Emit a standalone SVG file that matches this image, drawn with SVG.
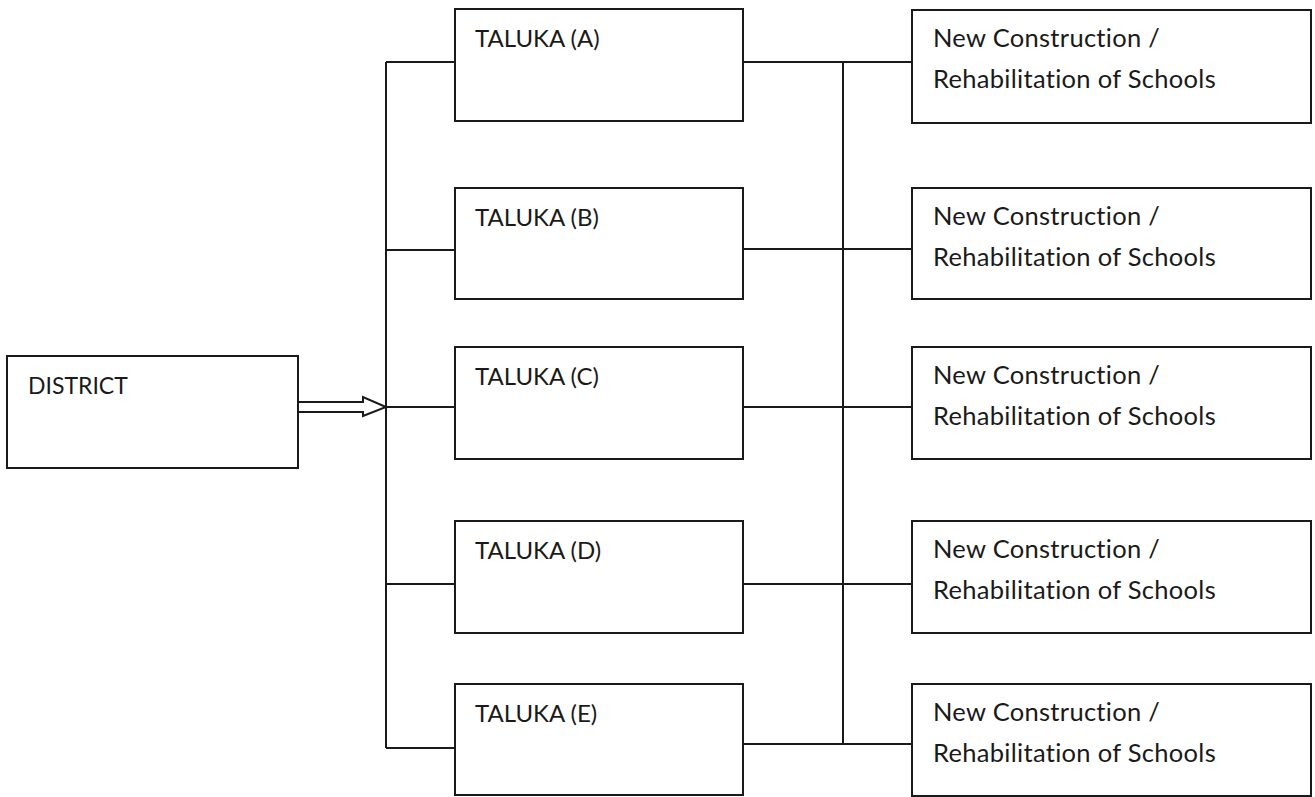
<svg xmlns="http://www.w3.org/2000/svg" width="1315" height="797" viewBox="0 0 1315 797">
<style>
.box{fill:#fff;stroke:#1a1a1a;stroke-width:2}
.ln{fill:none;stroke:#1a1a1a;stroke-width:2}
text{font-family:Lato,"Open Sans","Liberation Sans",sans-serif;font-size:24px;fill:#1a1a1a}
.s{font-size:25.5px;letter-spacing:0.3px}
</style>
<rect width="1315" height="797" fill="#fff"/>
<g id="connectors">
<path class="ln" d="M386 62V748"/>
<path class="ln" d="M386 62H455M386 250H455M386 407H455M386 584H455M386 748H455"/>
<path class="ln" d="M843 62V744"/>
<path class="ln" d="M743 62H912M743 249H912M743 407H912M743 584H912M743 744H912"/>
<path class="ln" d="M298 402H363V397L386 407L363 416V412H298" stroke-linejoin="miter"/>
</g>
<g id="district"><rect class="box" x="7" y="356" width="291" height="112"/><text x="28" y="394" style="font-size:23px">DISTRICT</text></g>
<g id="taluka-a"><rect class="box" x="455" y="9" width="288" height="112"/><text x="475" y="47">TALUKA (A)</text></g>
<g id="taluka-b"><rect class="box" x="455" y="188" width="288" height="111"/><text x="475" y="226">TALUKA (B)</text></g>
<g id="taluka-c"><rect class="box" x="455" y="347" width="288" height="112"/><text x="475" y="385">TALUKA (C)</text></g>
<g id="taluka-d"><rect class="box" x="455" y="521" width="288" height="112"/><text x="475" y="559">TALUKA (D)</text></g>
<g id="taluka-e"><rect class="box" x="455" y="684" width="288" height="111"/><text x="475" y="722">TALUKA (E)</text></g>
<g id="school-a"><rect class="box" x="912" y="10" width="399" height="113"/><text class="s" x="933" y="47">New Construction /</text><text class="s" x="933" y="88">Rehabilitation of Schools</text></g>
<g id="school-b"><rect class="box" x="912" y="188" width="399" height="111"/><text class="s" x="933" y="225">New Construction /</text><text class="s" x="933" y="266">Rehabilitation of Schools</text></g>
<g id="school-c"><rect class="box" x="912" y="347" width="399" height="112"/><text class="s" x="933" y="384">New Construction /</text><text class="s" x="933" y="425">Rehabilitation of Schools</text></g>
<g id="school-d"><rect class="box" x="912" y="521" width="399" height="112"/><text class="s" x="933" y="558">New Construction /</text><text class="s" x="933" y="599">Rehabilitation of Schools</text></g>
<g id="school-e"><rect class="box" x="912" y="684" width="399" height="112"/><text class="s" x="933" y="721">New Construction /</text><text class="s" x="933" y="762">Rehabilitation of Schools</text></g>
</svg>
